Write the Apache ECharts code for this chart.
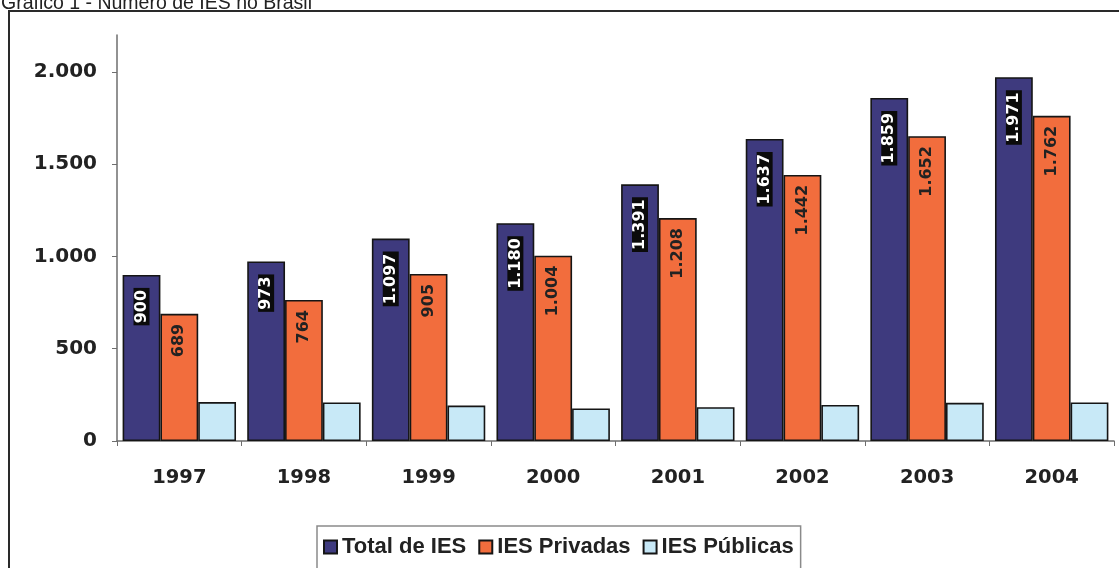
<!DOCTYPE html>
<html>
<head>
<meta charset="utf-8">
<script src="https://cdn.jsdelivr.net/npm/echarts@6/dist/echarts.min.js"></script>
<style>
  html, body { margin: 0; padding: 0; background: #fff; }
  #chart { width: 1119px; height: 568px; }
</style>
</head>
<body>
<div id="chart"></div>
<script>
// Número de instituições de ensino superior (IES) no Brasil, 1997–2004
const years = ['1997', '1998', '1999', '2000', '2001', '2002', '2003', '2004'];
const totalIES = [900, 973, 1097, 1180, 1391, 1637, 1859, 1971];
const privadas = [689, 764, 905, 1004, 1208, 1442, 1652, 1762];
const publicas = [211, 209, 192, 176, 183, 195, 207, 209];
const seriesNames = ['Total de IES', 'IES Privadas', 'IES Públicas'];
const chartTitle = 'Gráfico 1 - Número de IES no Brasil';

// thousands separator in pt-BR style: 1.971
function fmt(v) {
  return String(v).replace(/\B(?=(\d{3})+(?!\d))/g, '.');
}

const numFont = 'DejaVu Sans';
const textFont = '"Liberation Sans", Arial, sans-serif';
const edge = { borderColor: '#151515', borderWidth: 1.6 };

const chart = echarts.init(document.getElementById('chart'));
chart.setOption({
  animation: false,
  backgroundColor: '#fff',
  graphic: [
    {
      type: 'rect',
      shape: { x: 9, y: 11, width: 1200, height: 700 },
      style: { fill: 'none', stroke: '#2a2a2a', lineWidth: 2 },
      z: 0
    },
    {
      type: 'text',
      left: 1,
      top: -6,
      style: { text: chartTitle, font: '19.5px "Liberation Sans", Arial', fill: '#222' }
    }
  ],
  legend: {
    data: seriesNames,
    left: 317,
    top: 526,
    padding: [10, 7, 30, 6],
    borderColor: '#8a8a8a',
    borderWidth: 1.5,
    itemWidth: 13,
    itemHeight: 13,
    itemGap: 12,
    icon: 'rect',
    textStyle: { fontFamily: textFont, fontWeight: 'bold', fontSize: 22, color: '#222' }
  },
  grid: { left: 117, right: 5, top: 35, bottom: 127, containLabel: false },
  xAxis: {
    type: 'category',
    data: years,
    boundaryGap: true,
    axisLine: { lineStyle: { color: '#6e6e6e', width: 1.5 } },
    axisTick: { show: true, length: 5, alignWithLabel: false, lineStyle: { color: '#6e6e6e' } },
    axisLabel: { margin: 27, fontFamily: numFont, fontWeight: 'bold', fontSize: 19.5, color: '#222' }
  },
  yAxis: {
    type: 'value',
    min: 0,
    max: 2200,
    interval: 500,
    splitLine: { show: false },
    axisLine: { show: true, lineStyle: { color: '#6e6e6e', width: 1.5 } },
    axisTick: { show: true, length: 5, lineStyle: { color: '#6e6e6e' } },
    axisLabel: {
      margin: 20,
      showMaxLabel: false,
      fontFamily: numFont, fontWeight: 'bold', fontSize: 20, color: '#222',
      formatter: v => (v % 500 === 0 ? fmt(v) : '')
    }
  },
  series: [
    {
      name: seriesNames[0],
      type: 'bar',
      data: totalIES,
      barGap: '0%',
      barCategoryGap: '9%',
      itemStyle: Object.assign({ color: '#3e3a7e' }, edge),
      label: {
        show: true,
        position: 'insideTop',
        rotate: 90,
        align: 'right',
        verticalAlign: 'middle',
        distance: 8,
        offset: [-5, 0],
        formatter: p => fmt(p.value),
        fontFamily: numFont, fontWeight: 'bold', fontSize: 16, lineHeight: 14,
        color: '#fff',
        backgroundColor: '#0b0b0b',
        padding: [1, 2]
      }
    },
    {
      name: seriesNames[1],
      type: 'bar',
      data: privadas,
      barGap: '0%',
      barCategoryGap: '9%',
      itemStyle: Object.assign({ color: '#f26d3d' }, edge),
      label: {
        show: true,
        position: 'insideTop',
        rotate: 90,
        align: 'right',
        verticalAlign: 'middle',
        distance: 10,
        formatter: p => fmt(p.value),
        fontFamily: numFont, fontWeight: 'bold', fontSize: 16,
        color: '#222'
      }
    },
    {
      name: seriesNames[2],
      type: 'bar',
      data: publicas,
      barGap: '0%',
      barCategoryGap: '9%',
      itemStyle: Object.assign({ color: '#c8e9f7' }, edge)
    }
  ]
});
</script>
</body>
</html>
